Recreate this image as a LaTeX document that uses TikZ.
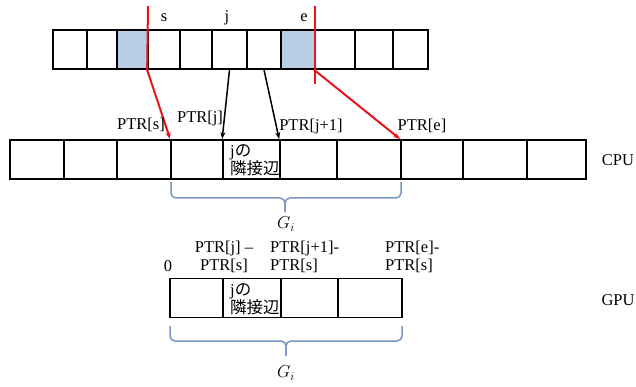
\documentclass[tikz,border=0pt]{standalone}
\usepackage{fontspec}
\setmainfont{Liberation Serif}
\newfontfamily\cjk{Noto Sans CJK JP}
\usetikzlibrary{arrows.meta}
\definecolor{shade}{RGB}{185,205,229}
\definecolor{bracec}{RGB}{120,150,195}
\definecolor{redl}{RGB}{232,20,27}
\begin{document}
\begin{tikzpicture}[x=1pt,y=-1pt,
  cell/.style={draw=black,line width=1.7pt,inner sep=0pt,minimum height=39pt},
  lbl/.style={inner sep=0pt,font=\fontsize{16.5}{18}\selectfont},
  redarrow/.style={draw=redl,line width=2pt,-{Stealth[length=7pt,width=5pt]}},
  redline/.style={draw=redl,line width=2pt},
  blkarrow/.style={draw=black,line width=1.5pt,-{Stealth[length=7pt,width=5pt]}},
  bracepath/.style={draw=bracec,line width=1.5pt,rounded corners=5pt},
  gilbl/.style={inner sep=0pt,font=\fontsize{17}{17}\selectfont}]
\useasboundingbox (0,0) rectangle (636,387);
% top array
\foreach \a/\b/\n/\f in {53/87/t1/white,87/117/t2/white,117/148/t3/shade,148/180/t4/white,180/212/t5/white,212/247/t6/white,247/281/t7/white,281/315/t8/shade,315/355/t9/white,355/393/t10/white,393/428/t11/white}{
  \pgfmathsetmacro\w{\b-\a}
  \pgfmathsetmacro\c{(\a+\b)/2}
  \node[cell,fill=\f,minimum width=\w pt] (\n) at (\c,49.5) {};
}
% CPU array
\foreach \a/\b/\n in {10/64/c1,64/117/c2,117/171/c3,171/223/c4,223/280/c5,280/337/c6,337/401/c7,401/463/c8,463/527/c9,527/586/c10}{
  \pgfmathsetmacro\w{\b-\a}
  \pgfmathsetmacro\c{(\a+\b)/2}
  \node[cell,minimum width=\w pt] (\n) at (\c,159.5) {};
}
% GPU array
\foreach \a/\b/\n in {170/223/g1,223/281/g2,281/338/g3,338/402/g4}{
  \pgfmathsetmacro\w{\b-\a}
  \pgfmathsetmacro\c{(\a+\b)/2}
  \node[cell,minimum width=\w pt] (\n) at (\c,298) {};
}
% top labels
\node[lbl] (ls) at (164,18) {s};
\node[lbl] (lj) at (227,18) {j};
\node[lbl] (le) at (304,18) {e};
% red lines
\coordinate (rtop1) at (148,6);
\coordinate (rtop2) at (315,6);
\coordinate (rbot2) at (315,84);
\draw[redline] (rtop1) -- (t4.south west);
\draw[redline] (rtop2) -- (rbot2);
\draw[redarrow] (t4.south west) -- (c4.north west);
\draw[redarrow] (t9.south west) -- (c8.north west);
% black arrows
\draw[blkarrow] (t6.south) -- (c5.north west);
\draw[blkarrow] (t7.south) -- (c6.north west);
% CPU labels
\node[lbl] (ps) at (141,125) {PTR[s]};
\node[lbl] (pj) at (200,119) {PTR[j]};
\node[lbl] (pj1) at (311,127) {PTR[j+1]};
\node[lbl] (pe) at (422,126) {PTR[e]};
\node[lbl,align=left,anchor=west] (adj1) at (230,160) {j{\cjk の}\\{\cjk 隣接辺}};
\node[lbl] (cpu) at (618,160) {CPU};
% CPU brace
\draw[bracepath] (171,182) -- (171,198) -- (285,198) -- (285,212);
\draw[bracepath] (401,182) -- (401,198) -- (285,198) -- (285,212);
\node[gilbl] (gi1) at (286,224) {$G_i$};
% GPU labels
\node[lbl] (z0) at (168,266) {0};
\node[lbl,align=center] (gj) at (224,257) {PTR[j] –\\PTR[s]};
\node[lbl,align=left,anchor=west] (gj1) at (270,257) {PTR[j+1]-\\PTR[s]};
\node[lbl,align=left,anchor=west] (ge) at (385,257) {PTR[e]-\\PTR[s]};
\node[lbl,align=left,anchor=west] (adj2) at (230,299) {j{\cjk の}\\{\cjk 隣接辺}};
\node[lbl] (gpu) at (618,300) {GPU};
% GPU brace
\draw[bracepath] (170,326) -- (170,341) -- (286,341) -- (286,356);
\draw[bracepath] (402,326) -- (402,341) -- (286,341) -- (286,356);
\node[gilbl] (gi2) at (286,373) {$G_i$};
\end{tikzpicture}
\end{document}
